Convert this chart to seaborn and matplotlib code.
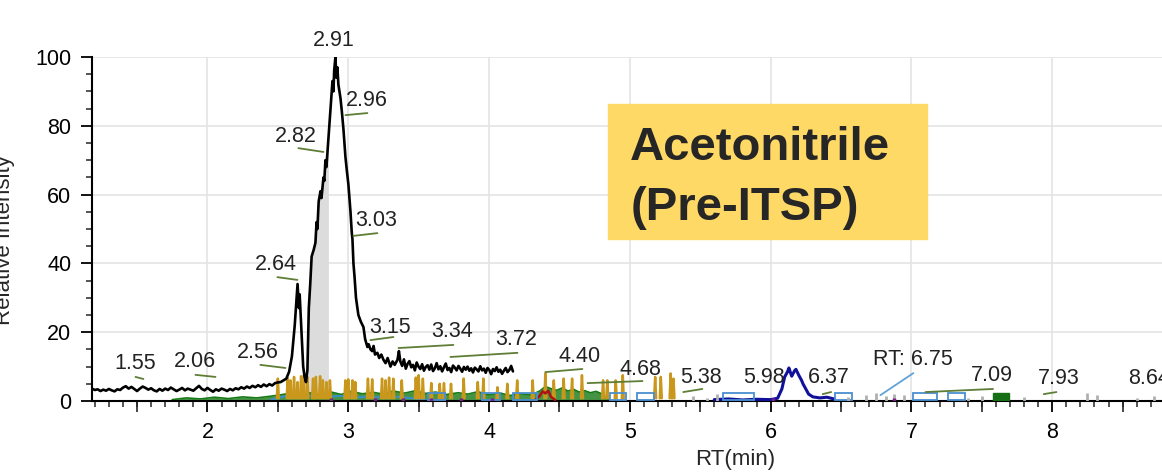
import numpy as np
import pandas as pd
import seaborn as sns
import matplotlib.pyplot as plt
from matplotlib.patches import Rectangle
from matplotlib.ticker import MultipleLocator

#%% data (RT in min, relative intensity in %)
# black trace: flat noisy baseline, the 2.64 shoulder, main peak at 2.91, tail to 4.17
base_y = [3.6, 3.2, 3.4, 2.9, 3.3, 3.0, 3.5, 3.1, 2.8, 3.4, 3.2, 3.9, 4.3, 3.6, 4.1, 3.5, 2.9,
          3.6, 4.2, 3.8, 3.3, 3.7, 3.1, 2.8, 3.5, 3.0, 3.6, 3.2, 3.9, 3.4, 2.9, 3.3, 3.8, 3.1,
          3.6, 3.3, 3.0, 3.7, 4.4, 3.5, 3.1, 3.8, 3.2, 2.7, 3.4, 3.0, 3.6, 3.3, 2.9, 3.5, 3.1,
          3.7, 3.4, 4.0, 3.6, 4.2, 3.8, 4.4, 4.0, 4.6, 4.1, 4.8, 4.3, 4.9, 4.5, 5.2, 5.4]
peak_x = [2.52, 2.54, 2.56, 2.58, 2.60, 2.62, 2.63, 2.64, 2.65, 2.655, 2.67, 2.68, 2.69, 2.70,
          2.71, 2.72, 2.73, 2.74, 2.755, 2.767, 2.775, 2.781, 2.79, 2.803, 2.81, 2.824, 2.83,
          2.838, 2.845, 2.859, 2.87, 2.88, 2.888, 2.895, 2.90, 2.909, 2.915, 2.923, 2.93, 2.945,
          2.955, 2.966, 2.975, 2.98, 2.99, 3.001, 3.01, 3.016, 3.025, 3.03, 3.037, 3.045, 3.055,
          3.072, 3.09, 3.108, 3.12, 3.136, 3.145, 3.158, 3.17, 3.18, 3.19, 3.207, 3.22, 3.235,
          3.25, 3.265, 3.28, 3.30, 3.315, 3.33, 3.35, 3.36]
peak_y = [5.5, 6.0, 6.5, 8.5, 13, 22, 28, 34, 27, 31, 18, 10, 7, 5.5,
          9, 27, 34, 42, 44, 46, 52, 50, 58, 61, 59, 65, 64,
          70, 68, 76, 82, 88, 93, 90, 96, 100, 94, 97, 92, 88,
          84, 79, 74, 71, 67, 63, 58, 55, 49, 47, 40, 36, 30,
          25, 23, 21.5, 18, 15.7, 16.5, 15, 14.5, 16, 13.5, 14, 12.5, 13.5,
          12, 11, 12.5, 10, 11.5, 10.5, 12, 14.5]
tail_y = [11.5, 10.2, 12.1, 9.4, 10.8, 11.6, 9.8, 10.5, 8.9, 11.2, 10.0, 9.3, 10.7, 8.8, 9.9,
          10.4, 9.1, 10.6, 8.7, 9.5, 11.0, 9.2, 10.1, 8.6, 9.8, 10.9, 9.0, 9.6, 8.4, 10.3, 9.7,
          8.9, 10.2, 9.4, 8.5, 9.9, 9.1, 10.0, 8.8, 9.5, 8.3, 9.7, 9.2, 8.6, 10.1, 8.9, 9.4,
          8.2, 9.6, 9.0, 7.8, 9.3, 8.7, 9.8, 8.5, 9.1, 7.9, 8.8, 9.6, 8.4, 9.0, 10.2, 8.6]

# gold (other channel) spikes
gold_rt = [2.50, 2.57, 2.59, 2.615, 2.64, 2.665, 2.685, 2.71, 2.75, 2.77, 2.80, 2.82, 2.845,
           2.87, 2.98, 3.00, 3.03, 3.05, 3.14, 3.17, 3.24, 3.265, 3.29, 3.32, 3.38, 3.48, 3.50,
           3.53, 3.59, 3.65, 3.68, 3.73, 3.82, 3.92, 3.96, 4.06, 4.13, 4.20, 4.31, 4.40, 4.46,
           4.53, 4.59, 4.66, 4.81, 4.84, 4.90, 4.95, 5.18, 5.22, 5.29, 5.31]
gold_h = [6.5, 6.7, 6.0, 7.0, 5.5, 7.2, 7.5, 7.0, 6.5, 7.0, 7.2, 6.0, 5.5,
          6.0, 6.0, 6.3, 6.0, 5.5, 6.5, 6.3, 6.5, 6.0, 6.8, 6.5, 6.0, 6.8, 7.5,
          6.5, 5.2, 5.0, 5.2, 5.0, 6.5, 5.5, 6.5, 4.0, 5.0, 6.0, 6.0, 8.0, 6.0,
          6.5, 6.5, 7.5, 6.0, 6.0, 6.0, 7.5, 7.0, 7.0, 8.0, 6.5]

# green trace near the baseline
green_x = [1.75, 1.85, 1.95, 2.05, 2.15, 2.25, 2.35, 2.45, 2.52, 2.58, 2.65, 2.72, 2.80, 2.88,
           2.95, 3.02, 3.10, 3.18, 3.25, 3.32, 3.40, 3.48, 3.55, 3.62, 3.70, 3.78, 3.85, 3.92,
           4.00, 4.08, 4.15, 4.22, 4.30, 4.36, 4.40, 4.44, 4.48, 4.52, 4.56, 4.60, 4.64, 4.68,
           4.72, 4.76, 4.80, 4.85]
green_y = [0.4, 0.9, 0.6, 1.1, 0.7, 1.2, 0.9, 1.4, 1.8, 2.2, 1.5, 2.4, 1.8, 2.6,
           1.9, 2.8, 2.1, 2.5, 2.0, 2.9, 2.3, 3.0, 2.2, 2.6, 1.9, 2.4, 2.0, 2.7,
           1.8, 2.3, 1.6, 2.1, 1.8, 2.9, 4.2, 3.6, 3.1, 3.8, 2.9, 3.4, 2.6, 3.0,
           2.4, 2.8, 2.1, 0.5]

# light blue trace
lblue_x = [2.45, 2.55, 2.65, 2.75, 2.85, 2.95, 3.05, 3.15, 3.25, 3.35, 3.45, 3.55]
lblue_y = [0.3, 1.4, 1.1, 1.6, 1.2, 1.5, 1.0, 1.3, 0.9, 1.2, 0.8, 0.4]

# dark blue peak near 6.15
navy_x = [5.60, 5.70, 5.80, 5.90, 6.00, 6.05, 6.08, 6.10, 6.12, 6.13, 6.15, 6.17, 6.18, 6.20,
          6.22, 6.23, 6.25, 6.27, 6.30, 6.35, 6.40, 6.45]
navy_y = [0.4, 0.6, 0.3, 0.5, 0.4, 0.8, 3.5, 7.0, 8.5, 9.6, 7.2, 8.8, 9.2, 7.5,
          6.0, 5.0, 3.5, 2.0, 1.2, 0.9, 1.1, 0.6]

# red blip
red_x = [4.33, 4.36, 4.38, 4.40, 4.42, 4.44, 4.47]
red_y = [0.3, 1.5, 2.8, 2.2, 3.0, 1.2, 0.3]

# outlined blue boxes on the baseline
box_start = [3.57, 3.95, 4.17, 4.86, 5.05, 5.66, 6.46, 7.01, 7.26]
box_end = [3.69, 4.08, 4.34, 4.97, 5.17, 5.88, 6.58, 7.18, 7.38]
box_h = [2.0, 2.0, 2.0, 2.0, 2.0, 2.0, 2.0, 2.0, 2.0]

# small grey / purple bits
grey_rt = [5.45, 5.55, 5.62, 6.55, 6.68, 6.75, 6.82, 6.88, 6.95, 7.40, 7.50, 7.80, 8.25, 8.32, 8.60, 8.72]
grey_h = [1.5, 1.0, 2.0, 1.2, 1.8, 2.2, 1.5, 2.0, 1.6, 1.0, 1.4, 1.2, 2.2, 1.8, 1.0, 1.5]
purple_rt = [2.88, 3.19, 3.39, 3.59, 3.80, 4.02, 6.02, 6.88]

# peak labels: text, text centre, and the little green underline
lab_txt = ['2.91', '2.96', '2.82', '3.03', '2.64', '2.56', '1.55', '2.06', '3.15', '3.34', '3.72',
           '4.40', '4.68', '5.38', '5.98', '6.37', '7.09', '7.93', '8.64']
lab_x = [2.898, 3.134, 2.628, 3.197, 2.486, 2.359, 1.485, 1.911, 3.30, 3.740, 4.19,
         4.646, 5.075, 5.508, 5.956, 6.41, 7.575, 8.05, 8.69]
lab_y = [104.9, 87.4, 76.9, 52.5, 39.7, 14.1, 10.8, 11.6, 21.5, 20.1, 18.0,
         12.8, 9.3, 6.7, 6.7, 6.7, 7.3, 6.4, 6.4]
line_x0 = [2.905, 2.98, 2.646, 3.037, 2.497, 2.376, 1.489, 1.915, 3.158, 3.357, 3.726,
           4.40, 4.70, 5.38, 5.96, 6.37, 7.10, 7.94, 8.64]
line_x1 = [2.905, 3.136, 2.824, 3.207, 2.639, 2.554, 1.545, 2.057, 3.321, 3.747, 4.202,
           4.663, 5.09, 5.515, 5.96, 6.43, 7.58, 8.03, 8.64]
line_y0 = [100.5, 83.1, 73.5, 48.0, 36.0, 10.5, 7.0, 7.6, 17.7, 15.4, 12.8,
           8.4, 5.2, 2.6, 2.0, 2.0, 2.6, 2.0, 2.0]
line_y1 = [102.0, 83.7, 72.4, 48.8, 35.2, 9.6, 6.4, 7.0, 18.6, 16.3, 14.0,
           9.3, 5.8, 3.5, 2.0, 2.6, 3.5, 2.6, 2.0]

#%% build traces
black = pd.concat([
    pd.DataFrame({'RT': np.linspace(1.18, 2.50, len(base_y)), 'I': base_y}),
    pd.DataFrame({'RT': peak_x, 'I': peak_y}),
    pd.DataFrame({'RT': np.linspace(3.37, 4.17, len(tail_y)), 'I': tail_y}),
], ignore_index=True)

# spikes -> baseline / tip / baseline triples
gold = pd.DataFrame({
    'RT': np.ravel([[r - 0.007, r, r + 0.007] for r in gold_rt]),
    'I': np.ravel([[0.8, h, 0.8] for h in gold_h]),
    'pk': np.repeat(np.arange(len(gold_rt)), 3),
})

#%% plot
sns.set_style('white')
plt.rcParams['font.family'] = ['Liberation Sans', 'DejaVu Sans']

fig = plt.figure(figsize=(11.62, 4.75), dpi=100)
ax = fig.add_axes([92 / 1162, 74 / 475, 1070 / 1162, 344 / 475])

# shaded integration window under the main peak
win = (black['RT'] >= 2.70) & (black['RT'] <= 2.86)
ax.fill_between(black['RT'], 0, black['I'], where=win, color='#DCDCDC', lw=0, zorder=1)

ax.fill_between(green_x, 0, green_y, color='#167A16', alpha=0.8, lw=0, zorder=2)
sns.lineplot(x=green_x, y=green_y, color='#167A16', lw=1.2, estimator=None, sort=False, ax=ax, zorder=2)
sns.lineplot(x=lblue_x, y=lblue_y, color='#3A8FD0', lw=1.4, estimator=None, sort=False, ax=ax, zorder=2)
sns.lineplot(data=gold, x='RT', y='I', units='pk', estimator=None, sort=False,
             color='#C9971C', lw=1.8, ax=ax, zorder=3)
sns.lineplot(x=red_x, y=red_y, color='#B01010', lw=1.8, estimator=None, sort=False, ax=ax, zorder=3)
sns.lineplot(x=navy_x, y=navy_y, color='#10109A', lw=2.2, estimator=None, sort=False, ax=ax, zorder=3)

for s, e, h in zip(box_start, box_end, box_h):
    ax.add_patch(Rectangle((s, 0.2), e - s, h, fill=False, ec='#4A8FD0', lw=1.3, zorder=3))
ax.add_patch(Rectangle((7.58, 0.2), 0.11, 2.0, color='#157015', zorder=3))

ax.vlines(grey_rt, 0, grey_h, color='#B0B0B0', lw=2, zorder=3)
ax.vlines(purple_rt, 0, 0.9, color='#7A1E8A', lw=2.5, zorder=3)

sns.lineplot(data=black, x='RT', y='I', color='black', lw=1.9, estimator=None, sort=False, ax=ax, zorder=4)

# peak labels
for t, x, y in zip(lab_txt, lab_x, lab_y):
    ax.text(x, y, t, ha='center', va='center', fontsize=15.5, color='#222222', zorder=6)
for x0, x1, y0, y1 in zip(line_x0, line_x1, line_y0, line_y1):
    ax.plot([x0, x1], [y0, y1], color='#5E7D35', lw=1.3, zorder=5)
ax.text(7.014, 12.2, 'RT: 6.75', ha='center', va='center', fontsize=15.5, color='#222222', zorder=6)
ax.plot([7.014, 6.78], [8.1, 1.7], color='#5FA3D8', lw=1.3, zorder=5)

# sample box
ax.add_patch(Rectangle((0.482, 0.471), 0.298, 0.392, transform=ax.transAxes,
                       color='#FFD966', zorder=5))
ax.text(0.503, 0.70, 'Acetonitrile', transform=ax.transAxes, fontsize=34,
        fontweight='bold', va='baseline', zorder=6)
ax.text(0.503, 0.527, '(Pre-ITSP)', transform=ax.transAxes, fontsize=34,
        fontweight='bold', va='baseline', zorder=6)

# axes
ax.set_xlim(1.18, 8.78)
ax.set_ylim(0, 100)
ax.xaxis.set_major_locator(MultipleLocator(1))
ax.xaxis.set_minor_locator(MultipleLocator(0.1))
ax.yaxis.set_major_locator(MultipleLocator(20))
ax.yaxis.set_minor_locator(MultipleLocator(5))
ax.grid(True, which='major', color='#E4E4E4', lw=1.2)
ax.set_axisbelow(True)
for side in ['top', 'right']:
    ax.spines[side].set_visible(False)
for side in ['left', 'bottom']:
    ax.spines[side].set_color('black')
    ax.spines[side].set_linewidth(1.5)
ax.tick_params(which='major', direction='out', length=8, width=1.3, labelsize=15.5,
               colors='black', pad=7, bottom=True, left=True)
ax.tick_params(which='minor', direction='out', length=4, width=1.1, bottom=True, left=True)

# half-minute ticks a bit longer
sec = ax.secondary_xaxis('bottom')
sec.set_xticks(np.arange(1.5, 9, 1))
sec.tick_params(length=8, width=1.2, labelbottom=False)
sec.spines['bottom'].set_visible(False)

ax.set_xlabel('RT(min)', fontsize=16)
ax.xaxis.set_label_coords(0.601, -0.14)
ax.set_ylabel('Relative Intensity', fontsize=16)
ax.yaxis.set_label_coords(-0.072, 0.468)

fig.savefig('out.png', dpi=100)
